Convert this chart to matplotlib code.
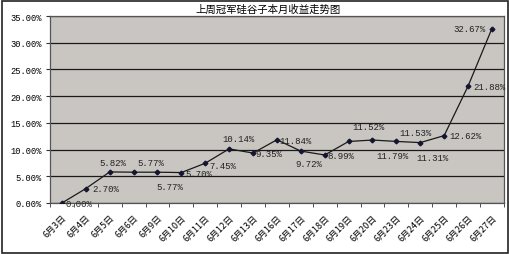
import numpy as np
import matplotlib.pyplot as plt
from matplotlib.patches import Rectangle

plt.rcParams['font.family'] = ['Noto Sans CJK SC', 'DejaVu Sans']

dates = ['6月3日', '6月4日', '6月5日', '6月6日', '6月9日', '6月10日', '6月11日',
         '6月12日', '6月13日', '6月16日', '6月17日', '6月18日', '6月19日',
         '6月20日', '6月23日', '6月24日', '6月25日', '6月26日', '6月27日']
returns = [0.00, 2.70, 5.82, 5.77, 5.77, 5.70, 7.45, 10.14, 9.35, 11.84, 9.72,
           8.99, 11.52, 11.79, 11.53, 11.31, 12.62, 21.88, 32.67]

# data label placement, pixel offset of label centre from its point
label_offsets = [(17, -1), (20, 0), (3, 9), (17, 10), (12, -14), (17, -1),
                 (18, -2), (9, 10), (16, 0), (19, -1), (8, -12), (16, -1),
                 (20, 15), (20, -15), (19, 9), (12, -15), (21, 0), (21, 0),
                 (-22, 0)]

fig = plt.figure(figsize=(5.1, 2.55), dpi=100)
ax = fig.add_axes([0.098, 0.2, 0.89, 0.733])
ax.set_facecolor('#c9c5c1')

x = np.arange(len(dates))
ax.plot(x, returns, color='#1a1a1a', lw=0.9, marker='D', markersize=2.4,
        markerfacecolor='#151530', markeredgecolor='#151530', zorder=3)

for xi, v, off in zip(x, returns, label_offsets):
    ax.annotate(f'{v:.2f}%', (xi, v), xytext=off, textcoords='offset pixels',
                ha='center', va='center', fontsize=6.5, color='#222222',
                family='Liberation Mono')

ax.set_xlim(-0.5, len(dates) - 0.5)
ax.set_ylim(0, 35)
ax.set_yticks(np.arange(0, 36, 5))
ax.set_yticklabels([f'{t:.2f}%' for t in np.arange(0, 36, 5)], fontsize=6.3,
                   family='Liberation Mono')
ax.yaxis.grid(True, color='#1a1a1a', lw=0.9)
ax.set_axisbelow(True)

ax.set_xticks(x)
ax.set_xticklabels(dates, rotation=45, ha='right', rotation_mode='anchor', fontsize=6.5)
ax.tick_params(axis='x', length=0, pad=7)
ax.set_xticks(np.arange(-0.5, len(dates), 1), minor=True)
ax.tick_params(axis='x', which='minor', length=3, color='#333333')
ax.tick_params(axis='y', length=3, color='#333333', pad=3)

for s in ax.spines.values():
    s.set_color('#555555')
    s.set_linewidth(0.9)

fig.text(0.526, 0.962, '上周冠军硅谷子本月收益走势图', ha='center', va='center', fontsize=7.5)
fig.patches.append(Rectangle((0.004, 0.004), 0.992, 0.988, transform=fig.transFigure,
                             fill=False, edgecolor='#222222', lw=1.2))

fig.savefig('out.png', dpi=100)
